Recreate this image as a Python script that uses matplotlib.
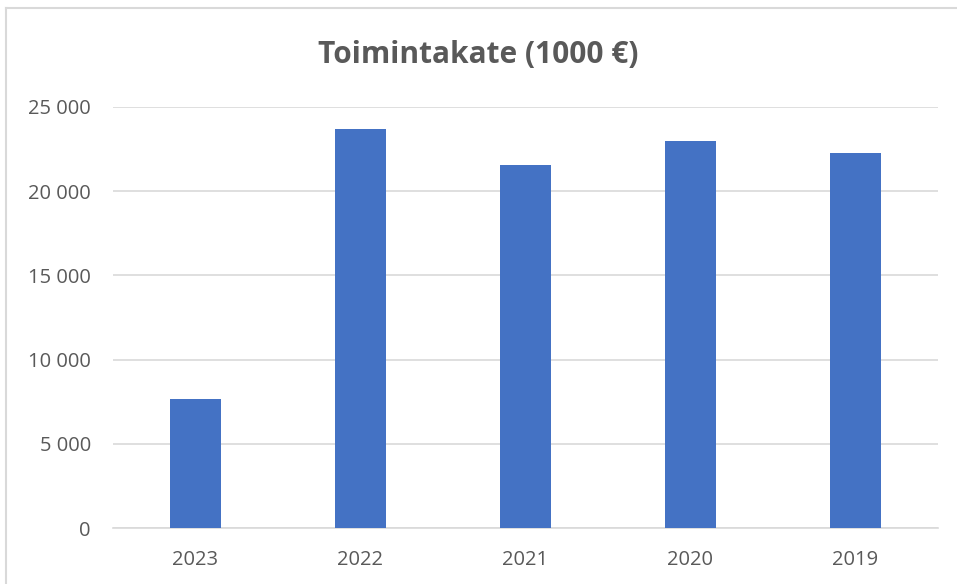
import matplotlib
matplotlib.use("Agg")
import matplotlib.pyplot as plt
from matplotlib.lines import Line2D
from matplotlib.ticker import FuncFormatter

years = ["2023", "2022", "2021", "2020", "2019"]
values = [7680, 23690, 21550, 22980, 22240]
yticks = [0, 5000, 10000, 15000, 20000, 25000]

TEXT = "#595959"
GRID = "#d9d9d9"
BAR = "#4472c4"

plt.rcParams["font.family"] = ["Open Sans", "DejaVu Sans"]

W, H = 957, 584
fig = plt.figure(figsize=(W / 100, H / 100), dpi=100)
ax = fig.add_axes([113 / W, 1 - 528 / H, (938 - 113) / W, (528 - 107) / H])

x = range(len(years))
ax.bar(x, values, width=0.315, color=BAR, zorder=3)

ax.set_xlim(-0.5, len(years) - 0.5)
ax.set_ylim(0, 25000)
ax.set_yticks(yticks)
ax.yaxis.set_major_formatter(FuncFormatter(lambda v, _: f"{int(v):,}".replace(",", " ")))
ax.set_xticks(list(x), years)

ax.grid(axis="y", color=GRID, linewidth=1.2, zorder=0)
for s in ["top", "right", "left"]:
    ax.spines[s].set_visible(False)
ax.spines["bottom"].set_color(GRID)
ax.spines["bottom"].set_linewidth(1.2)
ax.tick_params(axis="both", length=0, colors=TEXT, labelsize=14.5)
ax.tick_params(axis="y", pad=16)
ax.tick_params(axis="x", pad=16)

fig.text(0.5, 1 - 55 / H, "Toimintakate (1000 €)", ha="center", va="center",
         fontsize=21.5, fontweight="bold", color=TEXT)

# chart frame (only top and left edges visible in the crop)
fig.add_artist(Line2D([6 / W, 6 / W], [0, 1 - 8 / H], transform=fig.transFigure, color=GRID, linewidth=1.5))
fig.add_artist(Line2D([6 / W, 1], [1 - 8 / H, 1 - 8 / H], transform=fig.transFigure, color=GRID, linewidth=1.5))

fig.savefig("out.png", dpi=100)
